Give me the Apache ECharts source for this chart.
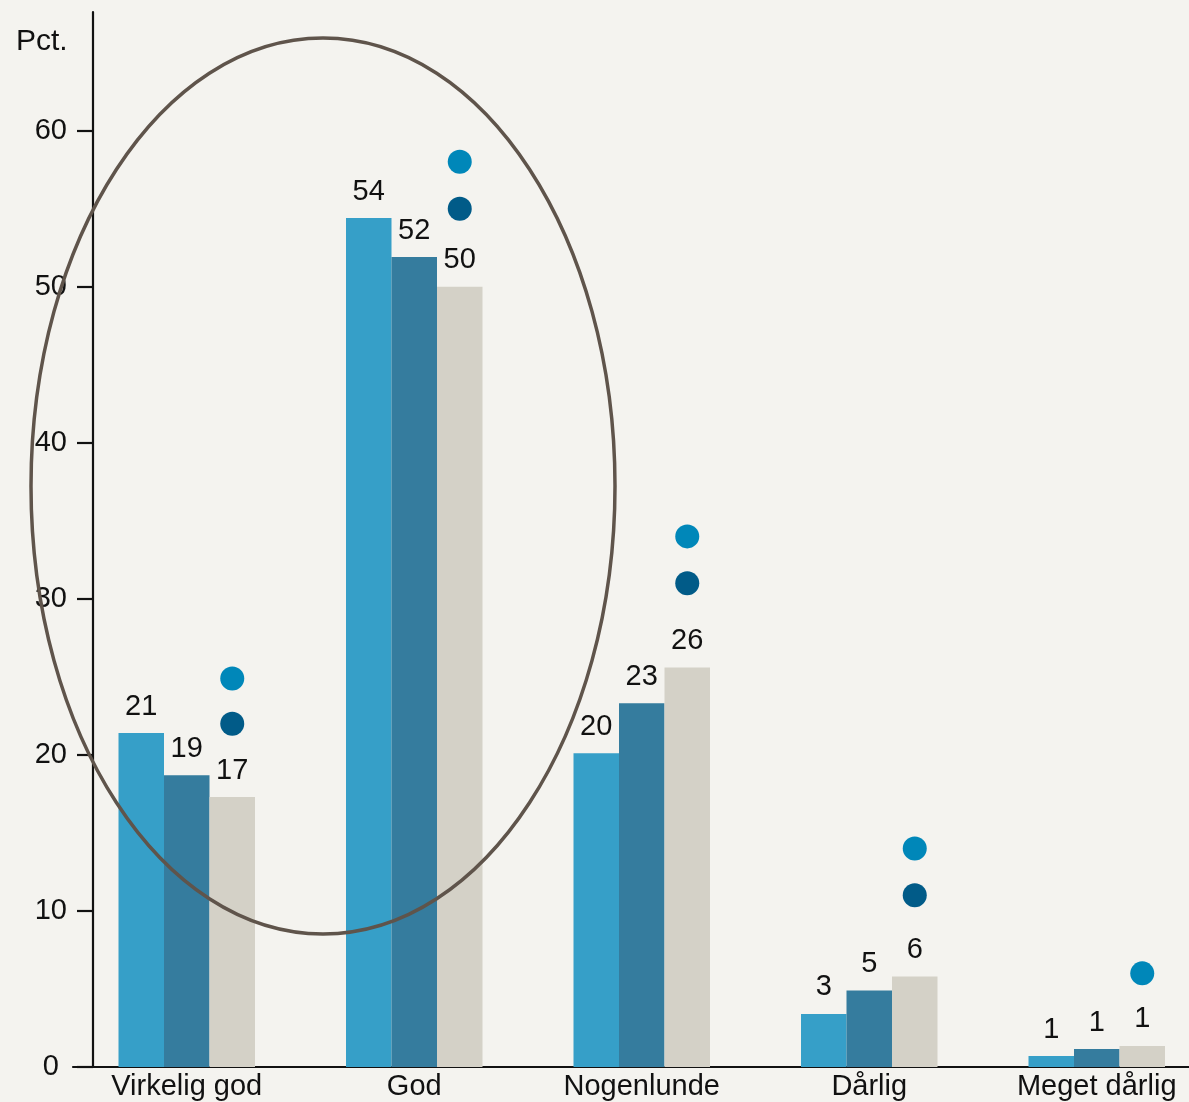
<!DOCTYPE html>
<html>
<head>
<meta charset="utf-8">
<script src="https://cdn.jsdelivr.net/npm/echarts@6/dist/echarts.min.js"></script>
<style>
html,body{margin:0;padding:0;background:#f4f3ef;}
#c{width:1189px;height:1102px;}
</style>
</head>
<body>
<div id="c"></div>
<script>
var categories = ['Virkelig god', 'God', 'Nogenlunde', 'Dårlig', 'Meget dårlig'];
var barsA = [21.4, 54.4, 20.1, 3.4, 0.7];
var barsB = [18.7, 51.9, 23.3, 4.9, 1.15];
var barsC = [17.3, 50.0, 25.6, 5.8, 1.35];
var dotsLight = [24.9, 58.0, 34.0, 14.0, 6.0];
var dotsDark = [22.0, 55.0, 31.0, 11.0, '-'];
var yTicks = [0, 10, 20, 30, 40, 50, 60];

var font = '"Liberation Sans", Arial, Helvetica, sans-serif';
var chart = echarts.init(document.getElementById('c'), null, {renderer: 'canvas'});

function barSeries(name, data, color) {
  return {
    name: name, type: 'bar', data: data,
    barWidth: 45.5, barGap: '0%',
    itemStyle: {color: color},
    label: {
      show: true, position: 'top', distance: 12,
      color: '#111', fontSize: 29, fontFamily: font,
      formatter: function (p) { return Math.round(p.value); }
    },
    z: 2
  };
}
function dotSeries(name, data, color) {
  return {
    name: name, type: 'scatter', data: data,
    symbol: 'circle', symbolSize: 24, symbolOffset: [45.5, 0],
    itemStyle: {color: color, opacity: 1},
    z: 3
  };
}

chart.setOption({
  backgroundColor: '#f4f3ef',
  animation: false,
  title: {
    text: 'Pct.', left: 11, top: 22,
    textStyle: {fontFamily: font, fontSize: 30, fontWeight: 'normal', color: '#111'}
  },
  grid: {left: 73, top: 12, width: 1137.5, bottom: 35, containLabel: false, outerBoundsMode: 'none'},
  xAxis: {
    type: 'category', data: categories,
    axisLine: {lineStyle: {color: '#111', width: 2.2}},
    axisTick: {show: false},
    axisLabel: {color: '#111', fontSize: 29, fontFamily: font, margin: 5, interval: 0}
  },
  yAxis: {
    type: 'value', min: 0, max: 67.6, interval: 10,
    offset: -20,
    splitLine: {show: false},
    axisLine: {show: true, lineStyle: {color: '#111', width: 2.2}},
    axisTick: {show: true, inside: false, length: 16, lineStyle: {color: '#111', width: 2.2}, customValues: yTicks},
    axisLabel: {
      color: '#111', fontSize: 29, fontFamily: font, margin: 26, customValues: yTicks,
      formatter: function (v) { return v === 0 ? '{z|0}' : String(v); },
      rich: {z: {fontSize: 29, fontFamily: font, color: '#111', padding: [0, 8, 0, 0]}}
    }
  },
  series: [
    barSeries('A', barsA, '#369fc8'),
    barSeries('B', barsB, '#357c9e'),
    barSeries('C', barsC, '#d4d1c7'),
    dotSeries('Light', dotsLight, '#0087b9'),
    dotSeries('Dark', dotsDark, '#015b88')
  ],
  graphic: [{
    type: 'ellipse',
    shape: {cx: 323, cy: 486, rx: 292, ry: 448},
    style: {fill: null, stroke: '#5f544b', lineWidth: 3.5},
    z: 10
  }]
});
</script>
</body>
</html>
